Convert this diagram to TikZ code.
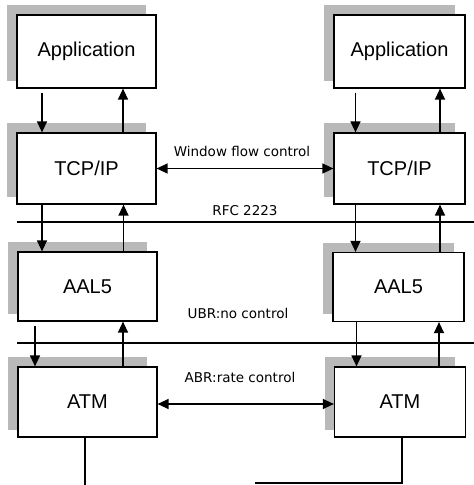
\documentclass[tikz,border=0pt]{standalone}
\usepackage{fontspec}
\setmainfont{Liberation Sans}
\newfontfamily\labelfont{DejaVu Sans}
\usetikzlibrary{arrows.meta,backgrounds}
\begin{document}
\begin{tikzpicture}[x=1pt,y=-1pt,
  box/.style={draw,line width=1.2pt,fill=white,font=\fontsize{20}{24}\selectfont,inner sep=0pt},
  lbox/.style={box,minimum width=139pt},
  rbox/.style={box,minimum width=131pt},
  lbl/.style={font=\labelfont\fontsize{13.5}{16}\selectfont,inner sep=0pt},
  tip/.tip={Triangle[length=11pt,width=10pt]},
  conn/.style={line width=1.3pt,-tip},
  biconn/.style={line width=1.3pt,tip-tip},
  rule/.style={line width=1.2pt},
  shade/.style={fill=gray!55}]
\useasboundingbox (0,0) rectangle (474,485);

% boxes
\node[lbox,minimum height=73pt] (appL) at (86.5,51.5) {Application};
\node[lbox,minimum height=71pt] (tcpL) at (86.5,168.5) {TCP/IP};
\node[lbox,minimum height=69pt] (aalL) at (87.5,286.5) {AAL5};
\node[lbox,minimum height=70pt] (atmL) at (87.5,402) {ATM};
\node[rbox,minimum height=73pt] (appR) at (399.5,51.5) {Application};
\node[rbox,minimum height=71pt] (tcpR) at (399.5,168.5) {TCP/IP};
\node[rbox,minimum height=69pt] (aalR) at (398.5,287) {AAL5};
\node[rbox,minimum height=70pt] (atmR) at (400,402) {ATM};

% shadows
\begin{pgfonlayer}{background}
\foreach \n in {appL,tcpL,aalL,atmL,appR,tcpR,aalR,atmR}{
  \fill[shade] ([shift={(-9pt,9pt)}]\n.north west) rectangle ([shift={(-11pt,8pt)}]\n.south east);
}
\end{pgfonlayer}

% vertical arrows, left
\draw[conn,shorten <=4pt] ([xshift=-44.5pt]appL.south) -- ([xshift=-44.5pt]tcpL.north);
\draw[conn] ([xshift=36.5pt]tcpL.north) -- ([xshift=36.5pt]appL.south);
\draw[conn] ([xshift=-44.5pt]tcpL.south) -- ([xshift=-44.5pt]aalL.north -| tcpL.south);
\draw[conn] ([xshift=37pt]aalL.north -| tcpL.south) -- ([xshift=37pt]tcpL.south);
\draw[conn,shorten <=4pt] ([xshift=-52.5pt]aalL.south) -- ([xshift=-52.5pt]atmL.north);
\draw[conn] ([xshift=35.5pt]atmL.north) -- ([xshift=35.5pt]aalL.south);

% vertical arrows, right
\draw[conn,shorten <=4pt] ([xshift=-44pt]appR.south) -- ([xshift=-44pt]tcpR.north);
\draw[conn] ([xshift=40.5pt]tcpR.north) -- ([xshift=40.5pt]appR.south);
\draw[conn] ([xshift=-44pt]tcpR.south) -- ([xshift=-44pt]aalR.north -| tcpR.south);
\draw[conn] ([xshift=40.5pt]aalR.north -| tcpR.south) -- ([xshift=40.5pt]tcpR.south);
\draw[conn] ([xshift=-42pt]aalR.south) -- ([xshift=-42pt]atmR.north -| aalR.south);
\draw[conn] ([xshift=40.5pt]atmR.north -| aalR.south) -- ([xshift=40.5pt]aalR.south);

% horizontal peer arrows
\draw[biconn] (tcpL.east) -- (tcpR.west);
\draw[biconn] ([yshift=-2pt]atmL.east) -- ([yshift=-2pt]atmR.west);

% rules
\coordinate (rfcA) at (17,222);
\coordinate (rfcB) at (474,222);
\draw[rule] (rfcA) -- (rfcB);
\coordinate (ubrA) at (17,343);
\coordinate (ubrB) at (474,343);
\draw[rule] (ubrA) -- (ubrB);

% labels
\node[lbl] (wfc) at (242,151) {Window flow control};
\node[lbl] (rfc) at (245,211) {RFC 2223};
\node[lbl] (ubr) at (238,313) {UBR:no control};
\node[lbl] (abr) at (240,377) {ABR:rate control};

% bottom lines
\coordinate (botL) at (85,485);
\draw[line width=1.2pt] (atmL.south -| botL) -- (botL);
\coordinate (botR) at (402,483);
\coordinate (botE) at (255,483);
\draw[line width=1.2pt] (atmR.south -| botR) -- (botR) -- (botE);
\end{tikzpicture}
\end{document}
